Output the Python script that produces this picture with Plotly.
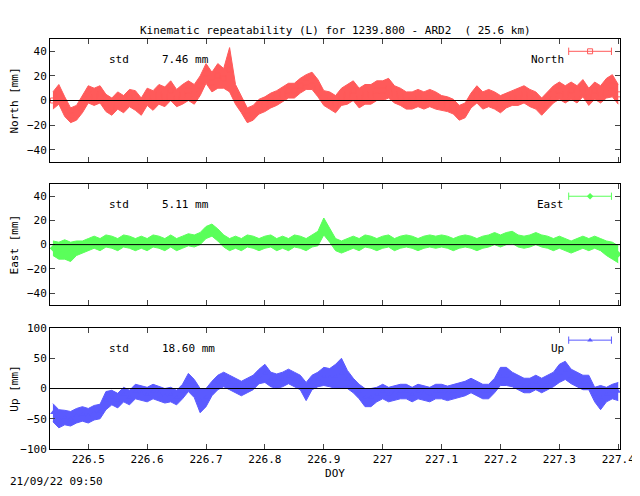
import plotly.graph_objects as go
from plotly.subplots import make_subplots

doy = [round(226.44 + 0.01 * i, 2) for i in range(97)]

north = [0, 5, -5, -12, -10, -3, 5, 3, 5, -2, -5, 0, -3, 2, 0, -5, 3, 0, 5, 3,
         8, 2, 5, 8, 5, 12, 22, 15, 20, 18, 25, 5, -3, -12, -10, -5, -3, 0, 2, 5,
         8, 8, 12, 15, 16, 10, 2, 0, -3, 3, 5, 8, 2, 5, 5, 8, 8, 10, 5, 3,
         0, 0, 2, 0, 2, 0, -2, -3, -5, -10, -8, 0, 5, 0, 2, 0, -3, 0, 2, 3,
         5, 2, 0, -5, 0, 5, 8, 5, 8, 5, 10, 3, 8, 5, 10, 12, 5]
north_hw = [7, 8, 8, 6, 6, 7, 7, 7, 7, 7, 7, 7, 7, 7, 8, 7, 7, 8, 8, 8,
            8, 7, 8, 8, 8, 8, 8, 8, 10, 8, 18, 8, 7, 6, 6, 6, 6, 6, 6, 6,
            6, 6, 6, 6, 7, 7, 6, 7, 7, 7, 8, 8, 8, 8, 8, 8, 8, 8, 7, 7,
            7, 7, 7, 7, 7, 7, 6, 6, 6, 6, 6, 6, 7, 7, 7, 7, 7, 6, 6, 7,
            7, 7, 7, 7, 7, 7, 7, 7, 7, 7, 7, 7, 7, 7, 8, 9, 8]

east = [-3, -5, -4, -6, -3, -2, 0, 2, 0, 3, 2, 0, 3, 2, 0, 2, 0, 3, 2, 0,
        3, 0, 2, 4, 3, 5, 10, 12, 8, 3, 0, 2, 0, 3, 2, 0, 2, 3, 0, 2,
        0, 3, 2, 0, 3, 5, 15, 8, 0, -2, 0, 2, 0, 3, 2, 0, 2, 3, 0, 2,
        3, 2, 0, 2, 3, 2, 3, 2, 0, 2, 3, 2, 0, 2, 3, 5, 3, 5, 6, 3,
        2, 3, 5, 3, 2, 0, 2, 0, -2, 0, 2, 0, 2, 0, -3, -5, -8]
east_hw = [6, 7, 8, 8, 6, 5, 5, 5, 5, 5, 5, 5, 5, 5, 5, 5, 5, 5, 5, 5,
           5, 5, 5, 5, 5, 5, 5, 5, 5, 5, 5, 5, 5, 5, 5, 5, 5, 5, 5, 5,
           5, 5, 5, 5, 5, 6, 7, 6, 5, 5, 5, 5, 5, 5, 5, 5, 5, 5, 5, 5,
           5, 5, 5, 5, 5, 5, 5, 5, 5, 5, 5, 5, 5, 5, 5, 5, 5, 5, 5, 5,
           5, 5, 5, 5, 5, 5, 5, 5, 5, 5, 5, 5, 5, 5, 6, 7, 7]

up = [-40, -50, -48, -50, -45, -42, -45, -40, -38, -20, -15, -20, -10, -15, -5, -8, -10, -5, -8, -12,
      -10, -15, -5, 10, 0, -20, -15, 0, 10, 15, 10, 5, 0, 5, 10, 20, 25, 15, 12, 15,
      20, 15, 10, -5, 10, 15, 20, 18, 20, 25, 15, 5, -5, -15, -15, -10, -5, -10, -8, -5,
      -5, -10, -5, -8, -10, -5, -5, -8, -5, -3, 0, 5, 0, -5, -5, 5, 20, 20, 15, 10,
      5, 5, 10, 5, 10, 15, 25, 30, 20, 15, 10, 10, -10, -15, -10, -5, -5]
up_hw = [15, 15, 12, 12, 12, 12, 12, 12, 12, 15, 12, 12, 12, 12, 12, 12, 12, 12, 12, 12,
         12, 12, 12, 15, 15, 20, 15, 12, 12, 12, 12, 12, 12, 12, 12, 12, 15, 12, 12, 12,
         12, 12, 12, 15, 12, 12, 15, 15, 20, 25, 15, 12, 12, 15, 15, 12, 12, 12, 12, 12,
         12, 12, 12, 12, 12, 12, 12, 12, 12, 12, 12, 12, 12, 12, 12, 12, 15, 15, 12, 12,
         12, 12, 12, 12, 12, 12, 15, 15, 12, 12, 12, 12, 12, 20, 12, 12, 15]

panels = [
    ("North", north, north_hw, "#ff5a5a", "square-open", "7.46", [-50, 50], [-40, -20, 0, 20, 40]),
    ("East", east, east_hw, "#5aff5a", "diamond", "5.11", [-50, 50], [-40, -20, 0, 20, 40]),
    ("Up", up, up_hw, "#5a5aff", "triangle-up", "18.60", [-100, 100], [-100, -50, 0, 50, 100]),
]

font = dict(family="DejaVu Sans Mono", size=11, color="black")
fig = make_subplots(rows=3, cols=1, vertical_spacing=0.055)
domains = [[0.700, 1.0], [0.351, 0.646], [0.0, 0.295]]

for i, (name, vals, hw, col, sym, std, yr, ticks) in enumerate(panels):
    r = i + 1
    lo = [v - h for v, h in zip(vals, hw)]
    hi = [v + h for v, h in zip(vals, hw)]
    fig.add_trace(go.Scatter(x=doy, y=lo, mode="lines", line=dict(width=1, color=col),
                             showlegend=False, hoverinfo="skip"), row=r, col=1)
    fig.add_trace(go.Scatter(x=doy, y=hi, mode="lines", line=dict(width=1, color=col),
                             fill="tonexty", fillcolor=col, showlegend=False), row=r, col=1)
    fig.add_trace(go.Scatter(x=doy, y=vals, mode="markers", name=name,
                             marker=dict(symbol=sym, size=5, color=col),
                             showlegend=False), row=r, col=1)
    fig.add_shape(type="line", x0=226.435, x1=227.403, y0=0, y1=0,
                  line=dict(color="black", width=1), row=r, col=1)
    ax = "" if r == 1 else str(r)
    xd, yd = "x" + ax + " domain", "y" + ax + " domain"
    fig.add_annotation(xref=xd, yref=yd, x=0.1, y=0.9, text="std     " + std + " mm",
                       showarrow=False, xanchor="left", font=font)
    fig.add_annotation(xref=xd, yref=yd, x=0.905, y=0.9, text=name,
                       showarrow=False, xanchor="right", font=font)
    fig.add_shape(type="line", xref=xd, yref=yd, x0=0.91, x1=0.985, y0=0.9, y1=0.9,
                  line=dict(color=col, width=1))
    for xe in (0.91, 0.985):
        fig.add_shape(type="line", xref=xd, yref=yd, x0=xe, x1=xe, y0=0.87, y1=0.93,
                      line=dict(color=col, width=1))
    fig.add_trace(go.Scatter(x=[226.435 + 0.9475 * 0.968], y=[yr[0] + 0.9 * (yr[1] - yr[0])],
                             mode="markers", marker=dict(symbol=sym, size=5, color=col),
                             showlegend=False, hoverinfo="skip"), row=r, col=1)
    fig.update_yaxes(range=yr, tickvals=ticks, domain=domains[i], title_text=name + " [mm]",
                     title_font=font, tickfont=font, ticks="inside", ticklen=5, mirror="ticks",
                     showline=True, linecolor="black", showgrid=False, zeroline=False,
                     automargin=False, title_standoff=6, row=r, col=1)
    fig.update_xaxes(range=[226.435, 227.403], tickvals=[226.5 + 0.1 * k for k in range(10)],
                     ticktext=["226.5", "226.6", "226.7", "226.8", "226.9", "227", "227.1", "227.2", "227.3", "227.4"],
                     showticklabels=(r == 3), tickfont=font, ticks="inside", ticklen=5, mirror="ticks",
                     showline=True, linecolor="black", showgrid=False, zeroline=False,
                     automargin=False, row=r, col=1)

fig.update_xaxes(title_text="DOY", title_font=font, title_standoff=4, row=3, col=1)
fig.add_annotation(xref="paper", yref="paper", x=0.5, y=1.041,
                   text="Kinematic repeatability (L) for 1239.800 - ARD2  ( 25.6 km)",
                   showarrow=False, font=font)
fig.add_annotation(xref="paper", yref="paper", x=0, xshift=-42, y=-0.1, xanchor="left",
                   text="21/09/22 09:50", showarrow=False, font=font)
fig.update_layout(width=632, height=488, margin=dict(l=42, r=20, t=31, b=47),
                  plot_bgcolor="white", paper_bgcolor="white", font=font)
fig.write_html("out.html")
